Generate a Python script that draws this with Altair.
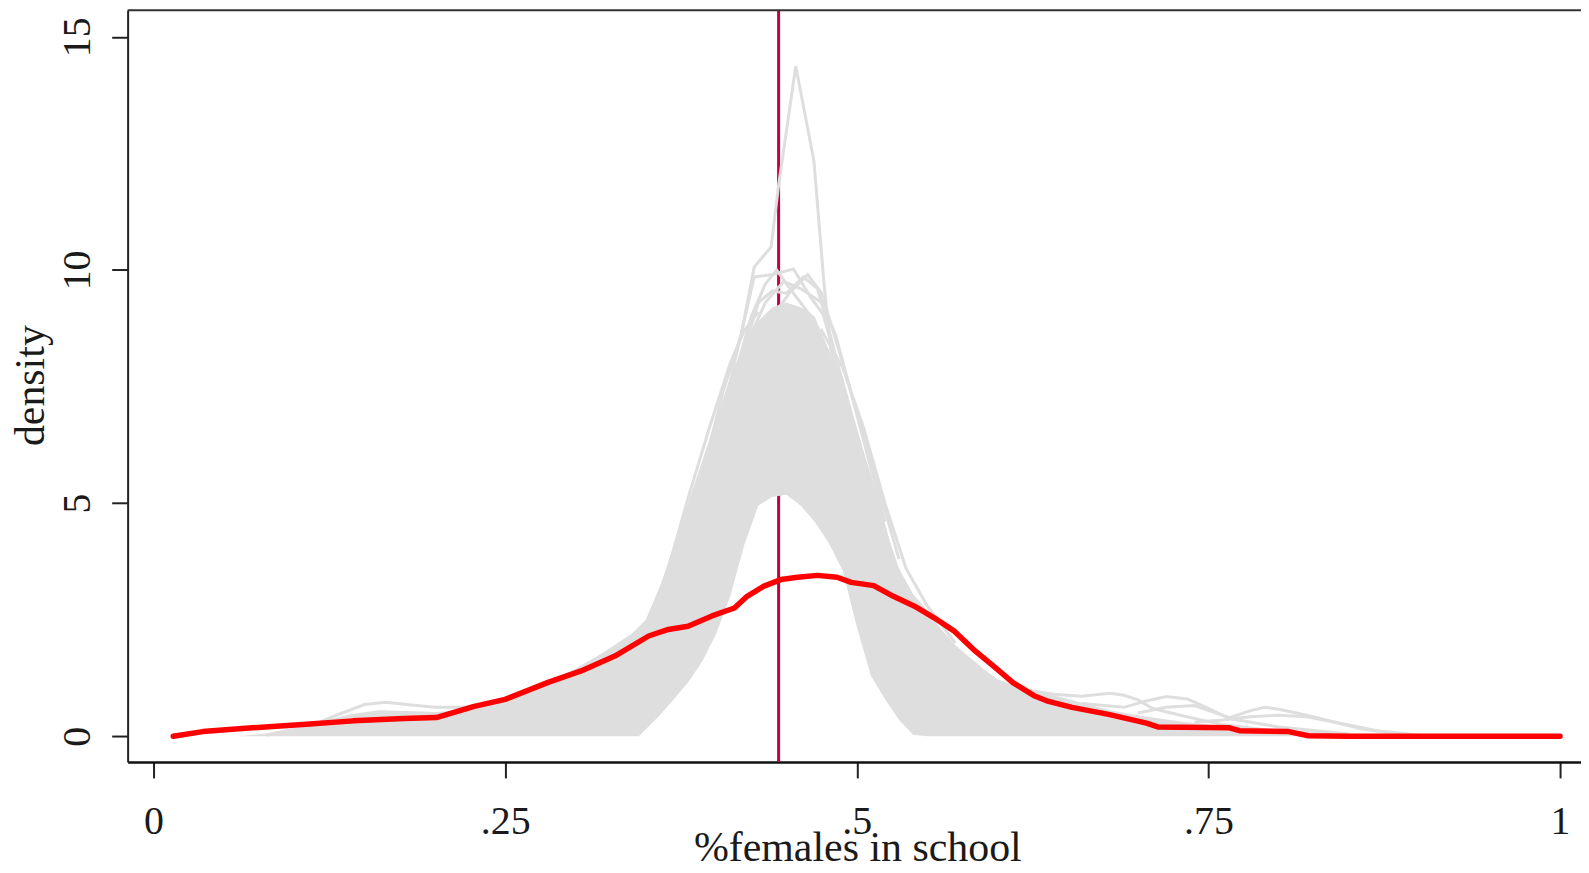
import altair as alt
import pandas as pd

# ---------------- data ----------------
# dense region of the simulated (grey) densities: lower / upper envelope
band_x = [0.06, 0.08, 0.10, 0.12, 0.14, 0.16, 0.18, 0.20, 0.22, 0.24, 0.26, 0.28,
          0.30, 0.32, 0.33, 0.34, 0.345, 0.35, 0.36, 0.37, 0.38, 0.39, 0.40, 0.41,
          0.42, 0.43, 0.44, 0.45, 0.46, 0.47, 0.48, 0.49, 0.50, 0.51, 0.52, 0.53,
          0.54, 0.55, 0.56, 0.57, 0.58, 0.59, 0.60, 0.62, 0.64, 0.66, 0.68, 0.70,
          0.72, 0.74, 0.76, 0.78, 0.80, 0.83, 0.86, 0.90]
band_lo = [0, 0, 0, 0, 0, 0, 0, 0, 0, 0, 0, 0,
           0, 0, 0, 0, 0, 0.15, 0.45, 0.8, 1.15, 1.6, 2.2, 3.0,
           4.1, 4.95, 5.13, 5.18, 4.95, 4.6, 4.15, 3.55, 2.35, 1.3, 0.8, 0.35,
           0.03, 0, 0, 0, 0, 0, 0, 0, 0, 0, 0, 0,
           0, 0, 0, 0, 0, 0, 0, 0]
band_hi = [0, 0.06, 0.18, 0.32, 0.47, 0.56, 0.54, 0.52, 0.56, 0.70, 0.90, 1.15,
           1.45, 1.80, 2.0, 2.2, 2.35, 2.5, 3.2, 4.1, 5.0, 5.9, 6.8, 7.7,
           8.4, 8.9, 9.2, 9.3, 9.2, 9.0, 8.3, 7.4, 6.6, 5.6, 4.5, 3.6,
           3.05, 2.7, 2.3, 1.95, 1.7, 1.45, 1.22, 1.0, 0.88, 0.72, 0.56, 0.45,
           0.36, 0.28, 0.22, 0.18, 0.14, 0.09, 0.04, 0]

# individual grey curves that stand out of the dense region
spike_x = [0.38, 0.395, 0.405, 0.418, 0.427, 0.439, 0.4445, 0.4566, 0.4695, 0.4767,
           0.4815, 0.491, 0.503, 0.5145, 0.53, 0.55]
spike_y = [4.4, 6.2, 7.4, 8.63, 10.06, 10.49, 11.84, 14.37, 12.34, 9.7,
           8.28, 7.21, 6.14, 5.07, 3.3, 1.9]
peak_b_x = [0.39, 0.41, 0.427, 0.44, 0.455, 0.467, 0.476, 0.49, 0.51, 0.53]
peak_b_y = [5.5, 7.6, 9.85, 9.9, 10.02, 9.42, 9.05, 7.6, 5.4, 3.4]
peak_c_x = [0.40, 0.42, 0.435, 0.448, 0.46, 0.475, 0.485, 0.50, 0.52]
peak_c_y = [6.4, 8.3, 9.3, 9.75, 9.6, 9.3, 8.6, 6.9, 4.6]
peak_d_x = [0.42, 0.44, 0.452, 0.465, 0.475, 0.49, 0.51, 0.53]
peak_d_y = [7.8, 9.0, 9.5, 9.9, 9.5, 8.0, 5.9, 3.8]
peak_e_x = [0.37, 0.39, 0.41, 0.425, 0.435, 0.443, 0.45, 0.46, 0.47, 0.48, 0.50, 0.52]
peak_e_y = [3.0, 5.2, 7.4, 9.0, 9.7, 10.0, 9.7, 9.3, 8.9, 8.0, 5.6, 3.4]
peak_f_x = [0.38, 0.40, 0.415, 0.43, 0.44, 0.45, 0.462, 0.472, 0.483, 0.50, 0.52]
peak_f_y = [3.6, 6.0, 7.8, 9.3, 9.55, 9.5, 9.85, 9.6, 8.4, 6.2, 4.0]
edge_r_x = [0.44, 0.46, 0.475, 0.49, 0.505, 0.52, 0.535, 0.55, 0.57]
edge_r_y = [6.5, 8.0, 8.7, 7.9, 6.6, 5.0, 3.6, 2.8, 2.0]
edge_l_x = [0.33, 0.35, 0.365, 0.38, 0.395, 0.41, 0.42, 0.43]
edge_l_y = [1.9, 2.4, 3.5, 5.1, 6.6, 8.0, 8.7, 9.1]
tail_l_x = [0.08, 0.11, 0.13, 0.15, 0.165, 0.18, 0.20, 0.22, 0.24, 0.26]
tail_l_y = [0.02, 0.2, 0.45, 0.68, 0.73, 0.68, 0.62, 0.62, 0.70, 0.85]
tail_r1_x = [0.62, 0.64, 0.66, 0.68, 0.69, 0.70, 0.71, 0.73, 0.76, 0.80, 0.84]
tail_r1_y = [1.0, 0.9, 0.86, 0.92, 0.88, 0.78, 0.6, 0.45, 0.25, 0.1, 0.02]
tail_r2_x = [0.66, 0.69, 0.705, 0.72, 0.735, 0.75, 0.765, 0.78, 0.80, 0.85]
tail_r2_y = [0.7, 0.62, 0.75, 0.85, 0.8, 0.6, 0.38, 0.3, 0.2, 0.05]
tail_r3_x = [0.70, 0.72, 0.74, 0.755, 0.765, 0.78, 0.79, 0.80, 0.82, 0.84, 0.87, 0.90]
tail_r3_y = [0.5, 0.62, 0.66, 0.5, 0.4, 0.55, 0.62, 0.58, 0.45, 0.3, 0.12, 0.02]
tail_r4_x = [0.74, 0.76, 0.78, 0.80, 0.82, 0.84, 0.86, 0.89]
tail_r4_y = [0.3, 0.35, 0.42, 0.45, 0.42, 0.3, 0.15, 0.03]

# observed density (red)
red_x = [0.014, 0.035, 0.07, 0.106, 0.142, 0.178, 0.201, 0.228, 0.25, 0.281, 0.304,
         0.328, 0.352, 0.366, 0.38, 0.397, 0.413, 0.422, 0.434, 0.446, 0.458, 0.472,
         0.486, 0.496, 0.512, 0.526, 0.541, 0.555, 0.569, 0.583, 0.597, 0.611, 0.626,
         0.635, 0.653, 0.679, 0.706, 0.714, 0.765, 0.772, 0.807, 0.821, 0.85, 0.9,
         0.95, 1.0]
red_y = [0.0, 0.1, 0.18, 0.25, 0.33, 0.38, 0.40, 0.64, 0.79, 1.16, 1.40,
         1.72, 2.15, 2.29, 2.36, 2.58, 2.75, 3.0, 3.22, 3.36, 3.41, 3.45,
         3.41, 3.30, 3.23, 3.0, 2.79, 2.54, 2.26, 1.86, 1.51, 1.15, 0.87,
         0.76, 0.62, 0.47, 0.28, 0.2, 0.18, 0.12, 0.1, 0.01, 0.0, 0.0,
         0.0, 0.0]

vline_x = [0.4444]

x_ticks = [0, 0.25, 0.5, 0.75, 1]
y_ticks = [0, 5, 10, 15]

# ---------------- tables ----------------
band_df = pd.DataFrame({"x": band_x, "lo": band_lo, "hi": band_hi})
curves = [("spike", spike_x, spike_y), ("b", peak_b_x, peak_b_y),
          ("c", peak_c_x, peak_c_y), ("d", peak_d_x, peak_d_y),
          ("e", peak_e_x, peak_e_y), ("f", peak_f_x, peak_f_y),
          ("er", edge_r_x, edge_r_y), ("el", edge_l_x, edge_l_y),
          ("tl", tail_l_x, tail_l_y), ("r1", tail_r1_x, tail_r1_y),
          ("r2", tail_r2_x, tail_r2_y), ("r3", tail_r3_x, tail_r3_y),
          ("r4", tail_r4_x, tail_r4_y)]
grey_df = pd.concat([pd.DataFrame({"x": xs, "y": ys, "curve": name})
                     for name, xs, ys in curves], ignore_index=True)
red_df = pd.DataFrame({"x": red_x, "y": red_y})
vline_df = pd.DataFrame({"x": vline_x})

W, H = 1458, 754
FONT = "Liberation Serif"
TXT = "#1a1a1a"
GREY = "#dedede"

xs = alt.Scale(domain=[-0.01843, 1.01488], nice=False, zero=False)
ys = alt.Scale(domain=[-0.5515, 15.567], nice=False, zero=False)

x_axis = alt.Axis(values=x_ticks, title="%females in school", grid=False,
                  labelExpr="replace(format(datum.value, '~g'), '0.', '.')",
                  labelFont=FONT, labelFontSize=40, labelColor=TXT,
                  labelBaseline="alphabetic", labelPadding=56, labelFlush=False,
                  labelOverlap=False,
                  tickSize=16, tickWidth=2, tickColor="#222",
                  domainColor="#111", domainWidth=2.5,
                  titleFont=FONT, titleFontSize=42, titleFontWeight="normal",
                  titleColor=TXT, titleX=732, titleY=99,
                  titleAlign="center", titleBaseline="alphabetic")
y_axis = alt.Axis(values=y_ticks, title="density", grid=False,
                  labelAngle=270, labelAlign="center", labelBaseline="alphabetic",
                  labelFont=FONT, labelFontSize=40, labelColor=TXT,
                  labelPadding=22, labelFlush=False, labelOverlap=False,
                  tickSize=16, tickWidth=2, tickColor="#222",
                  domainColor="#222", domainWidth=2,
                  titleFont=FONT, titleFontSize=42, titleFontWeight="normal",
                  titleColor=TXT, titleAngle=270, titleX=-84, titleY=376,
                  titleAlign="center", titleBaseline="alphabetic")

vline = alt.Chart(vline_df).mark_rule(color="#c4003c", strokeWidth=3).encode(
    x=alt.X("x:Q", scale=xs, axis=x_axis))

band = alt.Chart(band_df).mark_area(color=GREY, opacity=1).encode(
    x=alt.X("x:Q", scale=xs),
    y=alt.Y("lo:Q", scale=ys, axis=y_axis),
    y2="hi:Q")

grey = alt.Chart(grey_df).mark_line(color=GREY, strokeWidth=3).encode(
    x=alt.X("x:Q", scale=xs),
    y=alt.Y("y:Q", scale=ys),
    detail="curve:N")

red = alt.Chart(red_df).mark_line(color="#ff0000", strokeWidth=5.5,
                                  strokeJoin="round", strokeCap="round").encode(
    x=alt.X("x:Q", scale=xs),
    y=alt.Y("y:Q", scale=ys))

top_border = alt.Chart(vline_df).mark_rule(color="#333", strokeWidth=2).encode(
    x=alt.value(0), x2=alt.value(W), y=alt.value(0))

chart = alt.layer(vline, band, grey, red, top_border).properties(
    width=W, height=H,
    autosize=alt.AutoSizeParams(type="none"),
    padding={"left": 120, "top": 1, "right": 0, "bottom": 101},
).configure_view(stroke=None)

chart.save("out.html", embed_options={"renderer": "svg", "actions": False})
